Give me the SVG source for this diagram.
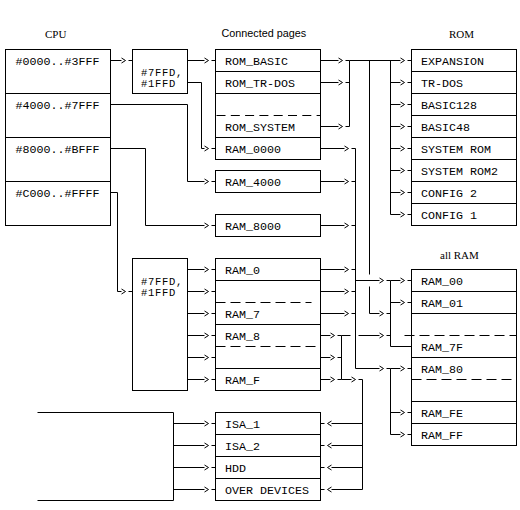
<svg xmlns="http://www.w3.org/2000/svg" xmlns:xlink="http://www.w3.org/1999/xlink" width="520" height="510" viewBox="0 0 520 510">
<style>
.bx{fill:#fff;stroke:#000;stroke-width:1}
.ln{fill:none;stroke:#000;stroke-width:1}
.d1{fill:none;stroke:#000;stroke-width:1;stroke-dasharray:9 5.3}
.d2{fill:none;stroke:#000;stroke-width:1;stroke-dasharray:10 5}
.m{font-family:"Liberation Mono","DejaVu Sans Mono",monospace;font-size:11.66px;fill:#000}
.ms{font-family:"Liberation Mono","DejaVu Sans Mono",monospace;font-size:10.5px;letter-spacing:0.7px;fill:#000}
.s{font-family:"Liberation Serif","DejaVu Serif",serif;font-size:11px;fill:#000}
.ss{font-family:"Liberation Sans",Arial,sans-serif;font-size:10.8px;fill:#000}
</style>
<defs>
<path id="ah" class="ln" d="M-11,-2.5 L-7,0 L-11,2.5 M-4,0 H0"/>
<path id="al" class="ln" d="M11,-2.5 L7,0 L11,2.5 M4,0 H0"/>
</defs>
<rect width="520" height="510" fill="#fff"/>
<text class="s" x="45" y="37.5">CPU</text>
<text class="ss" x="221.5" y="37">Connected pages</text>
<text class="s" x="449" y="38">ROM</text>
<text class="s" x="440" y="259">all RAM</text>

<g id="cpu">
<g transform="translate(0.5,0.5)">
<rect class="bx" x="5" y="49" width="105" height="176"/>
<path class="ln" d="M5,93 H110 M5,137 H110 M5,181 H110"/>
</g>
<text class="m" x="15.5" y="64.5">#0000..#3FFF</text>
<text class="m" x="15.5" y="108.5">#4000..#7FFF</text>
<text class="m" x="15.5" y="152.5">#8000..#BFFF</text>
<text class="m" x="15.5" y="196.5">#C000..#FFFF</text>
</g>

<g id="sel1">
<rect class="bx" x="132.5" y="49.5" width="55" height="44"/>
<text class="ms" x="141" y="75.5">#7FFD,</text>
<text class="ms" x="141" y="87">#1FFD</text>
</g>

<g id="sel2">
<rect class="bx" x="132.5" y="258.5" width="55" height="132"/>
<text class="ms" x="141" y="284.5">#7FFD,</text>
<text class="ms" x="141" y="296">#1FFD</text>
</g>

<g id="pages1">
<g transform="translate(0.5,0.5)">
<rect class="bx" x="215" y="49" width="105" height="110"/>
<path class="ln" d="M215,71 H320 M215,93 H320 M215,137 H320"/>
<path class="d1" d="M216,115 H320"/>
</g>
<text class="m" x="225" y="64.5">ROM_BASIC</text>
<text class="m" x="225" y="86.5">ROM_TR-DOS</text>
<text class="m" x="225" y="130.5">ROM_SYSTEM</text>
<text class="m" x="225" y="152.5">RAM_0000</text>
</g>

<g id="ram4000">
<rect class="bx" x="215.5" y="170.5" width="105" height="22"/>
<text class="m" x="225" y="185.5">RAM_4000</text>
</g>

<g id="ram8000">
<rect class="bx" x="215.5" y="214.5" width="105" height="22"/>
<text class="m" x="225" y="229.5">RAM_8000</text>
</g>

<g id="pages2">
<g transform="translate(0.5,0.5)">
<rect class="bx" x="215" y="258" width="105" height="132"/>
<path class="ln" d="M215,280 H320 M215,324 H320 M215,368 H320"/>
<path class="d2" d="M215,302 H311 M215,346 H320"/>
</g>
<text class="m" x="225" y="273.5">RAM_0</text>
<text class="m" x="225" y="317.5">RAM_7</text>
<text class="m" x="225" y="339.5">RAM_8</text>
<text class="m" x="225" y="383.5">RAM_F</text>
</g>

<g id="rom">
<g transform="translate(0.5,0.5)">
<rect class="bx" x="411" y="49" width="105" height="176"/>
<path class="ln" d="M411,71 H516 M411,93 H516 M411,115 H516 M411,137 H516 M411,159 H516 M411,181 H516 M411,203 H516"/>
</g>
<text class="m" x="421" y="64.5">EXPANSION</text>
<text class="m" x="421" y="86.5">TR-DOS</text>
<text class="m" x="421" y="108.5">BASIC128</text>
<text class="m" x="421" y="130.5">BASIC48</text>
<text class="m" x="421" y="152.5">SYSTEM ROM</text>
<text class="m" x="421" y="174.5">SYSTEM ROM2</text>
<text class="m" x="421" y="196.5">CONFIG 2</text>
<text class="m" x="421" y="218.5">CONFIG 1</text>
</g>

<g id="allram">
<g transform="translate(0.5,0.5)">
<rect class="bx" x="411" y="269" width="105" height="176"/>
<path class="ln" d="M411,291 H516 M411,313 H516 M411,357 H516 M411,401 H516 M411,423 H516"/>
<path class="d2" d="M404,335 H516 M411,379 H516"/>
</g>
<text class="m" x="421" y="284.5">RAM_00</text>
<text class="m" x="421" y="306.5">RAM_01</text>
<text class="m" x="421" y="350.5">RAM_7F</text>
<text class="m" x="421" y="372.5">RAM_80</text>
<text class="m" x="421" y="416.5">RAM_FE</text>
<text class="m" x="421" y="438.5">RAM_FF</text>
</g>

<g id="isa">
<g transform="translate(0.5,0.5)">
<rect class="bx" x="215" y="412" width="105" height="88"/>
<path class="ln" d="M215,434 H320 M215,456 H320 M215,478 H320"/>
</g>
<text class="m" x="225" y="427.5">ISA_1</text>
<text class="m" x="225" y="449.5">ISA_2</text>
<text class="m" x="225" y="471.5">HDD</text>
<text class="m" x="225" y="493.5">OVER DEVICES</text>
</g>

<g id="ext">
<path class="ln" transform="translate(0.5,0.5)" d="M37,412 H173 V500 H37"/>
</g>

<g id="connectors" transform="translate(0.5,0.5)">
<path class="ln" d="M110,60 H121 M187,60 H204 M187,82 H201 V148 H204 M110,104 H187 V181 H204 M110,148 H145 V225 H204 M110,192 H117 V291 H121"/>
<use xlink:href="#ah" x="132" y="60"/>
<use xlink:href="#ah" x="215" y="60"/>
<use xlink:href="#ah" x="215" y="148"/>
<use xlink:href="#ah" x="215" y="181"/>
<use xlink:href="#ah" x="215" y="225"/>
<use xlink:href="#ah" x="132" y="291"/>
<path class="ln" d="M187,269 H204 M187,291 H204 M187,313 H204 M187,335 H204 M187,357 H204 M187,379 H204"/>
<use xlink:href="#ah" x="215" y="269"/>
<use xlink:href="#ah" x="215" y="291"/>
<use xlink:href="#ah" x="215" y="313"/>
<use xlink:href="#ah" x="215" y="335"/>
<use xlink:href="#ah" x="215" y="357"/>
<use xlink:href="#ah" x="215" y="379"/>
<path class="ln" d="M320,60 H338 M320,82 H338 M320,126 H338 M349,60 V126 M349,60 H400 M390,60 V214"/>
<use xlink:href="#ah" x="349" y="60"/>
<use xlink:href="#ah" x="349" y="82"/>
<use xlink:href="#ah" x="349" y="126"/>
<use xlink:href="#ah" x="411" y="60"/>
<path class="ln" d="M390,82 H400 M390,104 H400 M390,126 H400 M390,148 H400 M390,170 H400 M390,192 H400 M390,214 H400"/>
<use xlink:href="#ah" x="411" y="82"/>
<use xlink:href="#ah" x="411" y="104"/>
<use xlink:href="#ah" x="411" y="126"/>
<use xlink:href="#ah" x="411" y="148"/>
<use xlink:href="#ah" x="411" y="170"/>
<use xlink:href="#ah" x="411" y="192"/>
<use xlink:href="#ah" x="411" y="214"/>
<path class="ln" d="M369,60 V274 M369,286 V313 H379"/>
<use xlink:href="#ah" x="390" y="313"/>
<path class="ln" d="M320,148 H344 M320,181 H344 M320,225 H344 M320,269 H344 M320,291 H344 M320,313 H344 M355,148 V368"/>
<use xlink:href="#ah" x="355" y="148"/>
<use xlink:href="#ah" x="355" y="181"/>
<use xlink:href="#ah" x="355" y="225"/>
<use xlink:href="#ah" x="355" y="269"/>
<use xlink:href="#ah" x="355" y="291"/>
<use xlink:href="#ah" x="355" y="313"/>
<path class="ln" d="M355,280 H379 M390,280 V346 H411 M390,280 H400 M390,302 H400"/>
<use xlink:href="#ah" x="390" y="280"/>
<use xlink:href="#ah" x="411" y="280"/>
<use xlink:href="#ah" x="411" y="302"/>
<path class="ln" d="M355,368 H379 M390,368 H400 M390,368 V434 M390,412 H400 M390,434 H400"/>
<use xlink:href="#ah" x="390" y="368"/>
<use xlink:href="#ah" x="411" y="368"/>
<use xlink:href="#ah" x="411" y="412"/>
<use xlink:href="#ah" x="411" y="434"/>
<path class="ln" d="M320,335 H330 M320,357 H330 M320,379 H330 M341,335 V379 M341,335 H350 M358,335 H379 M341,379 H351 M362,379 V489"/>
<use xlink:href="#ah" x="341" y="335"/>
<use xlink:href="#ah" x="341" y="357"/>
<use xlink:href="#ah" x="341" y="379"/>
<use xlink:href="#ah" x="390" y="335"/>
<use xlink:href="#ah" x="362" y="379"/>
<path class="ln" d="M362,423 H331 M362,445 H331 M362,467 H331 M362,489 H331"/>
<use xlink:href="#al" x="320" y="423"/>
<use xlink:href="#al" x="320" y="445"/>
<use xlink:href="#al" x="320" y="467"/>
<use xlink:href="#al" x="320" y="489"/>
<path class="ln" d="M173,423 H204 M173,445 H204 M173,467 H204 M173,489 H204"/>
<use xlink:href="#ah" x="215" y="423"/>
<use xlink:href="#ah" x="215" y="445"/>
<use xlink:href="#ah" x="215" y="467"/>
<use xlink:href="#ah" x="215" y="489"/>
</g>
</svg>
